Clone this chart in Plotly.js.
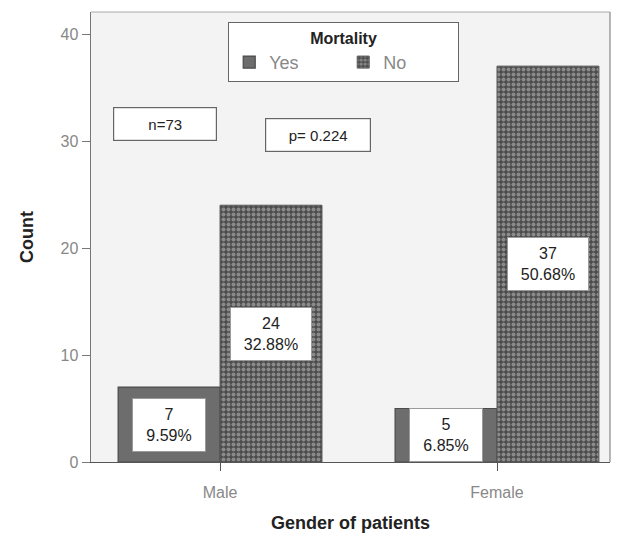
<!DOCTYPE html>
<html>
<head>
<meta charset="utf-8">
<script src="https://cdn.plot.ly/plotly-3.0.1.min.js"></script>
<style>html,body{margin:0;padding:0;background:#fff;}</style>
</head>
<body>
<div id="chart" style="width:631px;height:546px;"></div>
<script>
var categories = ["Male", "Female"];
var seriesNames = ["Yes", "No"];
var yesCounts = [7, 5];
var noCounts = [24, 37];
var yesPct = ["9.59%", "6.85%"];
var noPct = ["32.88%", "50.68%"];
var yTicks = [0, 10, 20, 30, 40];
var totalN = 73;
var pValue = "0.224";

var xIdx = categories.map(function(_, i){ return i; });
var barW = 0.368;

var traces = [
  {
    type: "bar", name: seriesNames[0], x: xIdx, y: yesCounts, width: barW,
    offset: -barW,
    marker: {color: "#6d6d6d", line: {color: "#4a4a4a", width: 1.2}},
    hoverinfo: "skip"
  },
  {
    type: "bar", name: seriesNames[1], x: xIdx, y: noCounts, width: barW,
    offset: 0,
    marker: {color: "#8a8a8a", line: {color: "#555", width: 1},
      pattern: {shape: ".", bgcolor: "#4c4c4c", fgcolor: "#c8c8c8", size: 5, solidity: 0.5, fillmode: "overlay"}},
    hoverinfo: "skip"
  }
];

var annotations = [];
function addLabel(xc, val, pct, w) {
  annotations.push({
    x: xc, y: val / 2, xref: "x", yref: "y",
    text: val + "<br>" + pct, showarrow: false,
    bgcolor: "#ffffff", bordercolor: "#9a9a9a", borderwidth: 1,
    width: w, height: 50,
    font: {family: "Liberation Sans, Arial, sans-serif", size: 16, color: "#222"}
  });
}
xIdx.forEach(function(i){
  addLabel(i - barW / 2, yesCounts[i], yesPct[i], 70);
  addLabel(i + barW / 2, noCounts[i], noPct[i], 78);
});
annotations.push({
  x: 0.143, y: 0.751, xref: "paper", yref: "paper", xanchor: "center", yanchor: "middle", showarrow: false,
  text: "n=" + totalN, bgcolor: "#fff", bordercolor: "#666", borderwidth: 1.2,
  width: 100, height: 30,
  font: {family: "Liberation Sans, Arial, sans-serif", size: 15, color: "#222"}
});
annotations.push({
  x: 0.437, y: 0.727, xref: "paper", yref: "paper", xanchor: "center", yanchor: "middle", showarrow: false,
  text: "p= " + pValue, bgcolor: "#fff", bordercolor: "#666", borderwidth: 1.2,
  width: 102, height: 30,
  font: {family: "Liberation Sans, Arial, sans-serif", size: 15, color: "#222"}
});

var layout = {
  width: 631, height: 546,
  margin: {l: 91, r: 21, t: 12, b: 84},
  paper_bgcolor: "#ffffff",
  plot_bgcolor: "#f3f3f3",
  font: {family: "Liberation Sans, Arial, sans-serif"},
  barmode: "group",
  showlegend: true,
  legend: {
    orientation: "h", x: 0.264, y: 0.978, xanchor: "left", yanchor: "top",
    bgcolor: "#ffffff", bordercolor: "#666", borderwidth: 1.2,
    title: {text: "<b>Mortality</b>", side: "top center", font: {size: 16, color: "#222"}},
    font: {size: 18, color: "#888"},
    entrywidth: 69, itemclick: false, itemdoubleclick: false
  },
  xaxis: {
    range: [-0.466, 1.408], tickvals: xIdx, ticktext: categories,
    showgrid: false, zeroline: false,
    showline: true, linecolor: "#555", linewidth: 1.2,
    ticks: "outside", ticklen: 8, tickcolor: "#555",
    ticklabelstandoff: 8,
    tickfont: {size: 16, color: "#888"},
    title: {text: "<b>Gender of patients</b>", font: {size: 18, color: "#222"}, standoff: 16}
  },
  yaxis: {
    range: [0, 42.06], tickvals: yTicks,
    showgrid: false, zeroline: false,
    showline: true, linecolor: "#777", linewidth: 1.5,
    ticks: "outside", ticklen: 8, tickcolor: "#777",
    tickfont: {size: 16, color: "#888"},
    title: {text: "<b>Count</b>", font: {size: 18, color: "#222"}, standoff: 22}
  },
  shapes: [
    {type: "line", xref: "paper", yref: "paper", x0: 0, x1: 1, y0: 1, y1: 1, line: {color: "#aaa", width: 1}},
    {type: "line", xref: "paper", yref: "paper", x0: 1, x1: 1, y0: 0, y1: 1, line: {color: "#888", width: 1.2}}
  ],
  annotations: annotations
};

Plotly.newPlot("chart", traces, layout, {staticPlot: true, displayModeBar: false});
</script>
</body>
</html>
